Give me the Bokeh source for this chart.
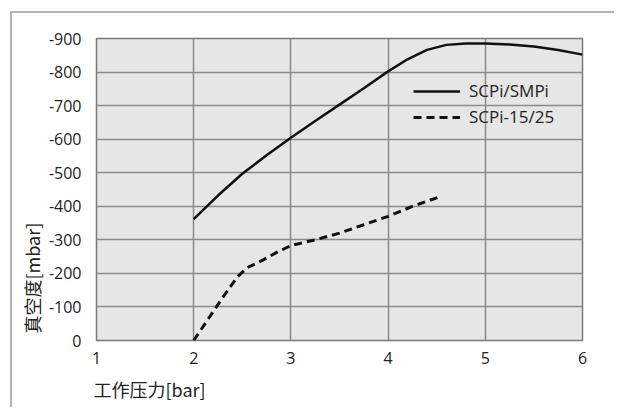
from bokeh.plotting import figure
from bokeh.models import Range1d, Legend, LegendItem, FixedTicker, CustomJSTickFormatter, Title
from bokeh.embed import file_html
from bokeh.resources import INLINE

# data
x_scpi = [2, 2.25, 2.5, 2.75, 3, 3.25, 3.5, 3.75, 4, 4.2, 4.4, 4.6, 4.8, 5, 5.25, 5.5, 5.75, 6]
y_scpi = [-362, -432, -497, -552, -604, -654, -703, -752, -802, -838, -866, -881, -885, -885, -882, -876, -866, -852]
x_scpi15 = [2, 2.17, 2.31, 2.45, 2.55, 2.7, 2.85, 3, 3.25, 3.5, 3.75, 4, 4.27, 4.55]
y_scpi15 = [0, -73, -133, -190, -217, -238, -262, -283, -300, -320, -345, -370, -402, -430]
x_ticks = [1, 2, 3, 4, 5, 6]
y_ticks = [0, -100, -200, -300, -400, -500, -600, -700, -800, -900]
series_names = ["SCPi/SMPi", "SCPi-15/25"]
x_label = "工作压力[bar]"
y_label = "真空度[mbar]"

p = figure(width=604, height=396, output_backend="svg", toolbar_location=None,
           x_range=Range1d(1, 6), y_range=Range1d(0, -900),
           min_border_left=84, min_border_right=34, min_border_top=25, min_border_bottom=69,
           styles={"margin-left": "12px", "margin-top": "13px",
                   "box-shadow": "-2px -2px 0 0 #b3b3b3"})

p.background_fill_color = "#e6e6e6"
p.border_fill_color = "white"
p.outline_line_color = "#7a7a7a"
p.outline_line_width = 1.5

fmt = CustomJSTickFormatter(code="return tick.toFixed(0);")
for ax in (p.xaxis[0], p.yaxis[0]):
    ax.axis_line_color = None
    ax.major_tick_line_color = None
    ax.minor_tick_line_color = None
    ax.major_tick_out = 0
    ax.major_tick_in = 0
    ax.minor_tick_out = 0
    ax.minor_tick_in = 0
    ax.formatter = fmt
    ax.major_label_text_font = "Open Sans"
    ax.major_label_text_font_size = "16px"
    ax.major_label_text_color = "#222222"

p.xaxis.ticker = FixedTicker(ticks=x_ticks)
p.yaxis.ticker = FixedTicker(ticks=y_ticks)
p.xaxis.major_label_standoff = 11
p.yaxis.major_label_standoff = 15

p.xgrid.grid_line_color = "#8a8a8a"
p.ygrid.grid_line_color = "#8a8a8a"
p.xgrid.grid_line_width = 1.5
p.ygrid.grid_line_width = 1.5
p.xgrid.ticker = FixedTicker(ticks=x_ticks)
p.ygrid.ticker = FixedTicker(ticks=y_ticks)

xt = Title(text=x_label, align="left", offset=-3, standoff=14,
           text_font="Noto Sans CJK SC", text_font_size="18px",
           text_font_style="normal", text_color="#222222")
yt = Title(text=y_label, align="left", offset=7, standoff=1,
           text_font="Noto Sans CJK SC", text_font_size="18px",
           text_font_style="normal", text_color="#222222")
p.add_layout(xt, "below")
p.add_layout(yt, "left")

r1 = p.line(x_scpi, y_scpi, line_color="#111111", line_width=2.5)
r2 = p.line(x_scpi15, y_scpi15, line_color="#111111", line_width=3, line_dash="8 5")

legend = Legend(items=[LegendItem(label=series_names[0], renderers=[r1]),
                       LegendItem(label=series_names[1], renderers=[r2])],
                location=(317, 212), border_line_color=None, background_fill_alpha=0,
                padding=0, margin=0, spacing=3, glyph_width=47, glyph_height=20,
                label_height=20, label_standoff=9,
                label_text_font="Open Sans", label_text_font_size="17px",
                label_text_color="#222222")
p.add_layout(legend)

open("out.html", "w").write(file_html(p, INLINE))
